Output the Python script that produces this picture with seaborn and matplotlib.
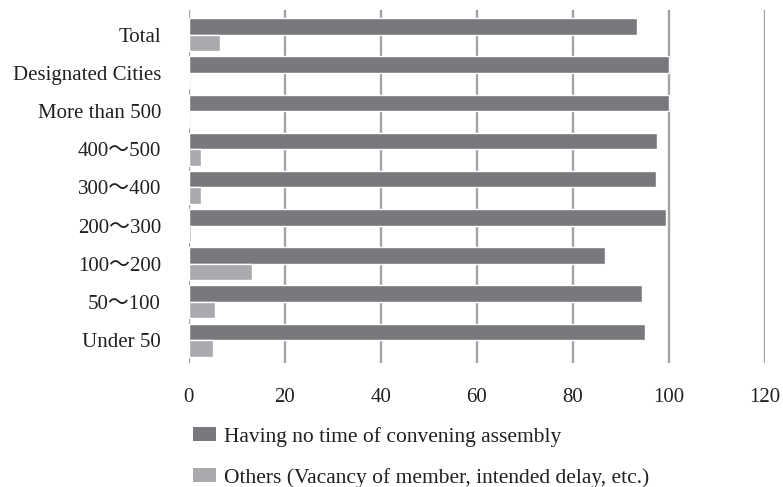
import matplotlib
matplotlib.use("Agg")
import matplotlib.pyplot as plt
import seaborn as sns
import pandas as pd
from matplotlib.patches import Patch

categories = ["Total", "Designated Cities", "More than 500", "400\uff5e500",
              "300\uff5e400", "200\uff5e300", "100\uff5e200", "50\uff5e100", "Under 50"]
no_time = [93.5, 100.0, 100.0, 97.5, 97.4, 99.5, 86.8, 94.5, 95.0]
others = [6.5, 0.0, 0.0, 2.5, 2.6, 0.5, 13.2, 5.5, 5.0]
series_names = ["Having no time of convening assembly",
                "Others (Vacancy of member, intended delay, etc.)"]
x_ticks = [0, 20, 40, 60, 80, 100, 120]

df = pd.DataFrame({
    "category": categories * 2,
    "value": no_time + others,
    "series": [series_names[0]] * len(categories) + [series_names[1]] * len(categories),
})

sns.set_theme(style="white")
plt.rcParams["font.family"] = ["Liberation Serif", "Noto Sans CJK JP", "DejaVu Sans"]

FS = 15
TEXT = "#231f20"

fig = plt.figure(figsize=(7.83, 4.87), dpi=100)
ax = fig.add_axes([0.241, 0.2546, 0.7356, 0.7248])

palette = {series_names[0]: "#78797d", series_names[1]: "#a9aaad"}
sns.barplot(data=df, y="category", x="value", hue="series", order=categories,
            hue_order=series_names, palette=palette, orient="h", width=0.865,
            saturation=1, ax=ax, legend=False)

ax.set_xlim(0, 120)
ax.set_ylim(8.6, -0.65)
ax.set_xticks(x_ticks)
ax.set_xticklabels([str(t) for t in x_ticks])
ax.grid(axis="x", color="#a4a4a8", linewidth=1.7)
ax.set_axisbelow(True)
for side in ["top", "right", "bottom", "left"]:
    ax.spines[side].set_visible(False)
ax.tick_params(axis="x", length=0, pad=18, labelsize=FS, colors=TEXT)
ax.tick_params(axis="y", length=0, pad=20, labelsize=FS, colors=TEXT)
ax.set_xlabel("")
ax.set_ylabel("")

# Legend stacked below the plot area
handles = [Patch(facecolor=palette[s], edgecolor="none") for s in series_names]
fig.legend(handles, series_names, loc="upper left", bbox_to_anchor=(0.2469, 0.124),
           frameon=False, fontsize=15.5, handlelength=1.04, handleheight=0.6,
           handletextpad=0.38, labelspacing=0.99, borderpad=0, borderaxespad=0,
           labelcolor=TEXT)

fig.savefig("out.png", dpi=100)
